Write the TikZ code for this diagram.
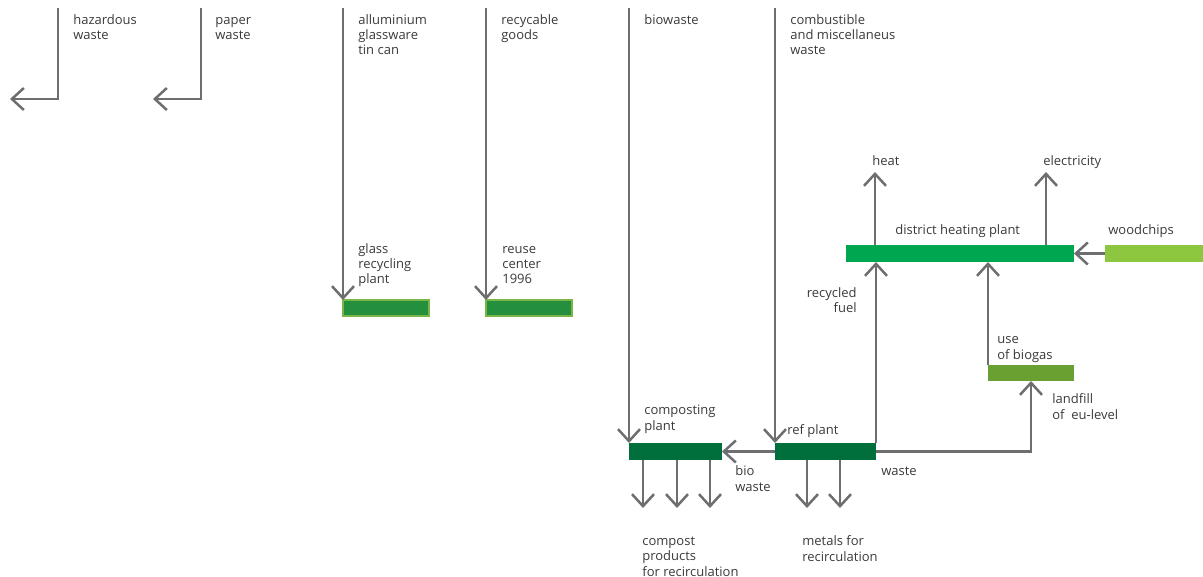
\documentclass[tikz,border=0pt]{standalone}
\usepackage{fontspec}
\setmainfont{Open Sans}
\usetikzlibrary{arrows.meta}
\definecolor{flowgrey}{HTML}{6D6E70}
\definecolor{txtgrey}{HTML}{3A3A3A}
\definecolor{glassgreen}{HTML}{248F3C}
\definecolor{glassrim}{HTML}{79B547}
\definecolor{darkgreen}{HTML}{006F3B}
\definecolor{heatgreen}{HTML}{00A650}
\definecolor{woodgreen}{HTML}{8DC63F}
\definecolor{landgreen}{HTML}{6A9F32}
\tikzset{
  flow/.style={draw=flowgrey, line width=0.05cm, -{Straight Barb[length=2.4mm,width=4.4mm]}},
  bar/.style={anchor=north west, inner sep=0, outer sep=0, minimum height=0.34cm},
  rimbar/.style={bar, fill=glassgreen, draw=glassrim, line width=0.03cm, minimum width=1.72cm, minimum height=0.32cm},
  lbl/.style={anchor=base west, inner sep=0, align=left, text=txtgrey,
    font=\fontsize{7.4}{8.6}\selectfont},
}
\begin{document}
\begin{tikzpicture}[x=0.02cm, y=-0.02cm]
    \useasboundingbox (0,0) rectangle (1203,577);

    \node[rimbar] (glass) at (343,300) {};
    \node[rimbar] (reuse) at (486,300) {};
    \node[bar, fill=darkgreen, minimum width=1.86cm] (compost) at (629,443) {};
    \node[bar, fill=darkgreen, minimum width=2.02cm] (ref) at (775,443) {};
    \node[bar, fill=heatgreen, minimum width=4.56cm] (dhp) at (846,245) {};
    \node[bar, fill=woodgreen, minimum width=1.96cm] (wood) at (1105,245) {};
    \node[bar, fill=landgreen, minimum width=1.72cm, minimum height=0.32cm] (landfill) at (988,365) {};

    \coordinate (haz) at (58,8);
    \coordinate (hazend) at (10,99);
    \draw[flow] (haz) |- (hazend);
    \coordinate (paper) at (201,8);
    \coordinate (paperend) at (153,99);
    \draw[flow] (paper) |- (paperend);

    \coordinate (alu) at (343,8);
    \draw[flow] (alu) -- (glass.north west);
    \coordinate (goods) at (486,8);
    \draw[flow] (goods) -- (reuse.north west);
    \coordinate (bio) at (629,8);
    \draw[flow] (bio) -- (compost.north west);
    \coordinate (comb) at (775,8);
    \draw[flow] (comb) -- (ref.north west);

    \draw[flow] (ref.west) -- (compost.east);
    \draw[flow] (ref.north east) -- (ref.north east |- dhp.south);
    \draw[flow] (ref.east) -| (landfill.south);
    \draw[flow] (landfill.north west) -- (landfill.north west |- dhp.south);
    \draw[flow] (wood.west) -- (dhp.east);

    \coordinate (heat) at (875,172);
    \draw[flow] (heat |- dhp.north) -- (heat);
    \coordinate (elec) at (1046,172);
    \draw[flow] (elec |- dhp.north) -- (elec);

    \foreach \x [count=\i] in {643,677,710}{
        \coordinate (cp\i) at (\x,508);
        \draw[flow] (cp\i |- compost.south) -- (cp\i);
    }
    \foreach \x [count=\i] in {807,840}{
        \coordinate (mt\i) at (\x,508);
        \draw[flow] (mt\i |- ref.south) -- (mt\i);
    }

    \node[lbl] (hazlbl) at (73,40) {hazardous\\waste};
    \node[lbl] (paperlbl) at (215,40) {paper\\waste};
    \node[lbl] (alulbl) at (358,55) {alluminium\\glassware\\tin can};
    \node[lbl] (goodslbl) at (501,40) {recycable\\goods};
    \node[lbl] (biolbl) at (644,25) {biowaste};
    \node[lbl] (comblbl) at (790,55) {combustible\\and miscellaneus\\waste};
    \node[lbl] (glasslbl) at (358,284) {glass\\recycling\\plant};
    \node[lbl] (reuselbl) at (502,284) {reuse\\center\\1996};
    \node[lbl] (heatlbl) at (872,166) {heat};
    \node[lbl] (eleclbl) at (1043,166) {electricity};
    \node[lbl] (dhplbl) at (895,235) {district heating plant};
    \node[lbl] (woodlbl) at (1108,235) {woodchips};
    \node[lbl, anchor=base east, align=right] (fuellbl) at (857,313) {recycled\\fuel};
    \node[lbl] (gaslbl) at (997,359) {use\\of biogas};
    \node[lbl] (landlbl) at (1052,419) {landfill\\of\ \ eu-level};
    \node[lbl] (compostlbl) at (644,430) {composting\\plant};
    \node[lbl] (reflbl) at (787,434) {ref plant};
    \node[lbl] (biowlbl) at (735,491) {bio\\waste};
    \node[lbl] (wastelbl) at (881,475) {waste};
    \node[lbl] (cplbl) at (642,576) {compost\\products\\for recirculation};
    \node[lbl] (mtlbl) at (802,561) {metals for\\recirculation};
\end{tikzpicture}
\end{document}
